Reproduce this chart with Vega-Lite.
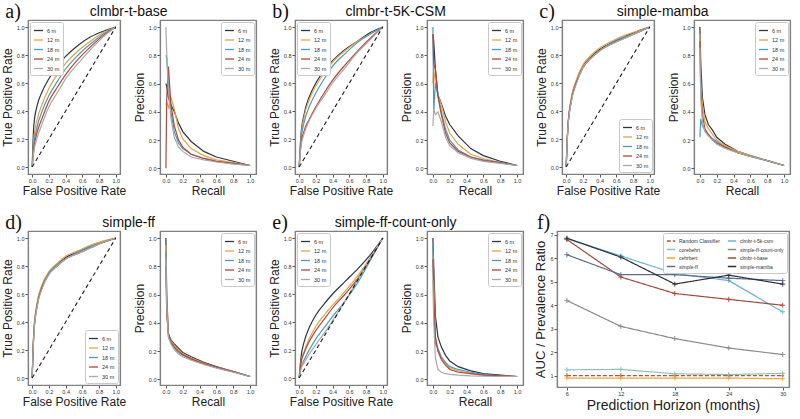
{
"$schema": "https://vega.github.io/schema/vega-lite/v6.json",
"background": "white",
"padding": {"left": 0, "right": 2, "top": 1, "bottom": 0},
"config": {
  "font": "Liberation Sans",
  "view": {"stroke": "#808080", "strokeWidth": 1.2},
  "axis": {"domain": true, "domainColor": "#808080", "domainWidth": 1.2, "grid": false, "tickColor": "#555", "tickSize": 3, "tickWidth": 1, "labelFontSize": 5.5, "labelColor": "#333", "labelPadding": 1, "titleFontSize": 12, "titleFontWeight": "normal", "titleColor": "#222", "titlePadding": 2, "minExtent": 0},
  "legend": {"symbolType": "stroke", "symbolSize": 80, "symbolStrokeWidth": 1.3, "labelFontSize": 5.5, "labelColor": "#333", "rowPadding": 0.5, "padding": 3, "offset": 2, "strokeColor": "#c8c8c8", "fillColor": "#ffffff", "cornerRadius": 2, "labelOffset": 3},
  "title": {"font": "Liberation Sans", "fontWeight": "normal", "color": "#111"}
},
"datasets": {
  "diag": [{"x": 0, "y": 0}, {"x": 1, "y": 1}],
  "roc": [
{"p":"a","s":"6 m","x":0,"y":0},{"p":"a","s":"6 m","x":0.02,"y":0.3},{"p":"a","s":"6 m","x":0.06,"y":0.44},{"p":"a","s":"6 m","x":0.12,"y":0.54},{"p":"a","s":"6 m","x":0.2,"y":0.63},{"p":"a","s":"6 m","x":0.3,"y":0.72},{"p":"a","s":"6 m","x":0.4,"y":0.79},{"p":"a","s":"6 m","x":0.55,"y":0.87},{"p":"a","s":"6 m","x":0.7,"y":0.93},{"p":"a","s":"6 m","x":0.85,"y":0.97},{"p":"a","s":"6 m","x":1,"y":1},
{"p":"a","s":"12 m","x":0,"y":0},{"p":"a","s":"12 m","x":0.02,"y":0.2},{"p":"a","s":"12 m","x":0.06,"y":0.34},{"p":"a","s":"12 m","x":0.12,"y":0.45},{"p":"a","s":"12 m","x":0.2,"y":0.56},{"p":"a","s":"12 m","x":0.3,"y":0.66},{"p":"a","s":"12 m","x":0.4,"y":0.74},{"p":"a","s":"12 m","x":0.55,"y":0.83},{"p":"a","s":"12 m","x":0.7,"y":0.9},{"p":"a","s":"12 m","x":0.85,"y":0.96},{"p":"a","s":"12 m","x":1,"y":1},
{"p":"a","s":"18 m","x":0,"y":0},{"p":"a","s":"18 m","x":0.02,"y":0.16},{"p":"a","s":"18 m","x":0.06,"y":0.29},{"p":"a","s":"18 m","x":0.12,"y":0.4},{"p":"a","s":"18 m","x":0.2,"y":0.51},{"p":"a","s":"18 m","x":0.3,"y":0.61},{"p":"a","s":"18 m","x":0.4,"y":0.7},{"p":"a","s":"18 m","x":0.55,"y":0.8},{"p":"a","s":"18 m","x":0.7,"y":0.88},{"p":"a","s":"18 m","x":0.85,"y":0.95},{"p":"a","s":"18 m","x":1,"y":1},
{"p":"a","s":"24 m","x":0,"y":0},{"p":"a","s":"24 m","x":0.02,"y":0.13},{"p":"a","s":"24 m","x":0.06,"y":0.25},{"p":"a","s":"24 m","x":0.12,"y":0.35},{"p":"a","s":"24 m","x":0.2,"y":0.47},{"p":"a","s":"24 m","x":0.3,"y":0.57},{"p":"a","s":"24 m","x":0.4,"y":0.66},{"p":"a","s":"24 m","x":0.55,"y":0.77},{"p":"a","s":"24 m","x":0.7,"y":0.86},{"p":"a","s":"24 m","x":0.85,"y":0.94},{"p":"a","s":"24 m","x":1,"y":1},
{"p":"a","s":"30 m","x":0,"y":0},{"p":"a","s":"30 m","x":0.02,"y":0.11},{"p":"a","s":"30 m","x":0.06,"y":0.21},{"p":"a","s":"30 m","x":0.12,"y":0.31},{"p":"a","s":"30 m","x":0.2,"y":0.43},{"p":"a","s":"30 m","x":0.3,"y":0.53},{"p":"a","s":"30 m","x":0.4,"y":0.63},{"p":"a","s":"30 m","x":0.55,"y":0.74},{"p":"a","s":"30 m","x":0.7,"y":0.84},{"p":"a","s":"30 m","x":0.85,"y":0.93},{"p":"a","s":"30 m","x":1,"y":1},
{"p":"b","s":"6 m","x":0,"y":0},{"p":"b","s":"6 m","x":0.02,"y":0.22},{"p":"b","s":"6 m","x":0.06,"y":0.38},{"p":"b","s":"6 m","x":0.12,"y":0.5},{"p":"b","s":"6 m","x":0.2,"y":0.6},{"p":"b","s":"6 m","x":0.3,"y":0.69},{"p":"b","s":"6 m","x":0.4,"y":0.76},{"p":"b","s":"6 m","x":0.55,"y":0.84},{"p":"b","s":"6 m","x":0.7,"y":0.9},{"p":"b","s":"6 m","x":0.85,"y":0.96},{"p":"b","s":"6 m","x":1,"y":1},
{"p":"b","s":"12 m","x":0,"y":0},{"p":"b","s":"12 m","x":0.02,"y":0.2},{"p":"b","s":"12 m","x":0.06,"y":0.36},{"p":"b","s":"12 m","x":0.12,"y":0.48},{"p":"b","s":"12 m","x":0.2,"y":0.58},{"p":"b","s":"12 m","x":0.3,"y":0.67},{"p":"b","s":"12 m","x":0.4,"y":0.75},{"p":"b","s":"12 m","x":0.55,"y":0.83},{"p":"b","s":"12 m","x":0.7,"y":0.9},{"p":"b","s":"12 m","x":0.85,"y":0.95},{"p":"b","s":"12 m","x":1,"y":1},
{"p":"b","s":"18 m","x":0,"y":0},{"p":"b","s":"18 m","x":0.02,"y":0.18},{"p":"b","s":"18 m","x":0.06,"y":0.32},{"p":"b","s":"18 m","x":0.12,"y":0.43},{"p":"b","s":"18 m","x":0.2,"y":0.53},{"p":"b","s":"18 m","x":0.3,"y":0.63},{"p":"b","s":"18 m","x":0.4,"y":0.72},{"p":"b","s":"18 m","x":0.55,"y":0.81},{"p":"b","s":"18 m","x":0.7,"y":0.89},{"p":"b","s":"18 m","x":0.85,"y":0.95},{"p":"b","s":"18 m","x":1,"y":1},
{"p":"b","s":"24 m","x":0,"y":0},{"p":"b","s":"24 m","x":0.02,"y":0.15},{"p":"b","s":"24 m","x":0.06,"y":0.26},{"p":"b","s":"24 m","x":0.12,"y":0.34},{"p":"b","s":"24 m","x":0.2,"y":0.43},{"p":"b","s":"24 m","x":0.3,"y":0.53},{"p":"b","s":"24 m","x":0.4,"y":0.62},{"p":"b","s":"24 m","x":0.55,"y":0.73},{"p":"b","s":"24 m","x":0.7,"y":0.83},{"p":"b","s":"24 m","x":0.85,"y":0.92},{"p":"b","s":"24 m","x":1,"y":1},
{"p":"b","s":"30 m","x":0,"y":0},{"p":"b","s":"30 m","x":0.02,"y":0.14},{"p":"b","s":"30 m","x":0.06,"y":0.24},{"p":"b","s":"30 m","x":0.12,"y":0.33},{"p":"b","s":"30 m","x":0.2,"y":0.42},{"p":"b","s":"30 m","x":0.3,"y":0.51},{"p":"b","s":"30 m","x":0.4,"y":0.6},{"p":"b","s":"30 m","x":0.55,"y":0.71},{"p":"b","s":"30 m","x":0.7,"y":0.82},{"p":"b","s":"30 m","x":0.85,"y":0.91},{"p":"b","s":"30 m","x":1,"y":1},
{"p":"c","s":"6 m","x":0,"y":0},{"p":"c","s":"6 m","x":0.02,"y":0.28},{"p":"c","s":"6 m","x":0.06,"y":0.48},{"p":"c","s":"6 m","x":0.12,"y":0.61},{"p":"c","s":"6 m","x":0.2,"y":0.72},{"p":"c","s":"6 m","x":0.3,"y":0.79},{"p":"c","s":"6 m","x":0.4,"y":0.84},{"p":"c","s":"6 m","x":0.55,"y":0.89},{"p":"c","s":"6 m","x":0.7,"y":0.93},{"p":"c","s":"6 m","x":0.85,"y":0.97},{"p":"c","s":"6 m","x":1,"y":1},
{"p":"c","s":"12 m","x":0,"y":0},{"p":"c","s":"12 m","x":0.02,"y":0.29},{"p":"c","s":"12 m","x":0.06,"y":0.49},{"p":"c","s":"12 m","x":0.12,"y":0.62},{"p":"c","s":"12 m","x":0.2,"y":0.73},{"p":"c","s":"12 m","x":0.3,"y":0.8},{"p":"c","s":"12 m","x":0.4,"y":0.85},{"p":"c","s":"12 m","x":0.55,"y":0.9},{"p":"c","s":"12 m","x":0.7,"y":0.94},{"p":"c","s":"12 m","x":0.85,"y":0.97},{"p":"c","s":"12 m","x":1,"y":1},
{"p":"c","s":"18 m","x":0,"y":0},{"p":"c","s":"18 m","x":0.02,"y":0.27},{"p":"c","s":"18 m","x":0.06,"y":0.47},{"p":"c","s":"18 m","x":0.12,"y":0.6},{"p":"c","s":"18 m","x":0.2,"y":0.71},{"p":"c","s":"18 m","x":0.3,"y":0.78},{"p":"c","s":"18 m","x":0.4,"y":0.83},{"p":"c","s":"18 m","x":0.55,"y":0.89},{"p":"c","s":"18 m","x":0.7,"y":0.93},{"p":"c","s":"18 m","x":0.85,"y":0.96},{"p":"c","s":"18 m","x":1,"y":1},
{"p":"c","s":"24 m","x":0,"y":0},{"p":"c","s":"24 m","x":0.02,"y":0.28},{"p":"c","s":"24 m","x":0.06,"y":0.47},{"p":"c","s":"24 m","x":0.12,"y":0.6},{"p":"c","s":"24 m","x":0.2,"y":0.71},{"p":"c","s":"24 m","x":0.3,"y":0.78},{"p":"c","s":"24 m","x":0.4,"y":0.83},{"p":"c","s":"24 m","x":0.55,"y":0.88},{"p":"c","s":"24 m","x":0.7,"y":0.92},{"p":"c","s":"24 m","x":0.85,"y":0.96},{"p":"c","s":"24 m","x":1,"y":1},
{"p":"c","s":"30 m","x":0,"y":0},{"p":"c","s":"30 m","x":0.02,"y":0.27},{"p":"c","s":"30 m","x":0.06,"y":0.46},{"p":"c","s":"30 m","x":0.12,"y":0.59},{"p":"c","s":"30 m","x":0.2,"y":0.71},{"p":"c","s":"30 m","x":0.3,"y":0.78},{"p":"c","s":"30 m","x":0.4,"y":0.83},{"p":"c","s":"30 m","x":0.55,"y":0.88},{"p":"c","s":"30 m","x":0.7,"y":0.92},{"p":"c","s":"30 m","x":0.85,"y":0.96},{"p":"c","s":"30 m","x":1,"y":1},
{"p":"d","s":"6 m","x":0,"y":0},{"p":"d","s":"6 m","x":0.02,"y":0.33},{"p":"d","s":"6 m","x":0.06,"y":0.53},{"p":"d","s":"6 m","x":0.12,"y":0.66},{"p":"d","s":"6 m","x":0.2,"y":0.75},{"p":"d","s":"6 m","x":0.3,"y":0.81},{"p":"d","s":"6 m","x":0.4,"y":0.86},{"p":"d","s":"6 m","x":0.55,"y":0.9},{"p":"d","s":"6 m","x":0.7,"y":0.94},{"p":"d","s":"6 m","x":0.85,"y":0.97},{"p":"d","s":"6 m","x":1,"y":1},
{"p":"d","s":"12 m","x":0,"y":0},{"p":"d","s":"12 m","x":0.02,"y":0.34},{"p":"d","s":"12 m","x":0.06,"y":0.54},{"p":"d","s":"12 m","x":0.12,"y":0.67},{"p":"d","s":"12 m","x":0.2,"y":0.76},{"p":"d","s":"12 m","x":0.3,"y":0.82},{"p":"d","s":"12 m","x":0.4,"y":0.87},{"p":"d","s":"12 m","x":0.55,"y":0.91},{"p":"d","s":"12 m","x":0.7,"y":0.95},{"p":"d","s":"12 m","x":0.85,"y":0.98},{"p":"d","s":"12 m","x":1,"y":1},
{"p":"d","s":"18 m","x":0,"y":0},{"p":"d","s":"18 m","x":0.02,"y":0.32},{"p":"d","s":"18 m","x":0.06,"y":0.52},{"p":"d","s":"18 m","x":0.12,"y":0.65},{"p":"d","s":"18 m","x":0.2,"y":0.75},{"p":"d","s":"18 m","x":0.3,"y":0.81},{"p":"d","s":"18 m","x":0.4,"y":0.85},{"p":"d","s":"18 m","x":0.55,"y":0.9},{"p":"d","s":"18 m","x":0.7,"y":0.94},{"p":"d","s":"18 m","x":0.85,"y":0.97},{"p":"d","s":"18 m","x":1,"y":1},
{"p":"d","s":"24 m","x":0,"y":0},{"p":"d","s":"24 m","x":0.02,"y":0.32},{"p":"d","s":"24 m","x":0.06,"y":0.52},{"p":"d","s":"24 m","x":0.12,"y":0.65},{"p":"d","s":"24 m","x":0.2,"y":0.74},{"p":"d","s":"24 m","x":0.3,"y":0.8},{"p":"d","s":"24 m","x":0.4,"y":0.85},{"p":"d","s":"24 m","x":0.55,"y":0.89},{"p":"d","s":"24 m","x":0.7,"y":0.93},{"p":"d","s":"24 m","x":0.85,"y":0.97},{"p":"d","s":"24 m","x":1,"y":1},
{"p":"d","s":"30 m","x":0,"y":0},{"p":"d","s":"30 m","x":0.02,"y":0.31},{"p":"d","s":"30 m","x":0.06,"y":0.51},{"p":"d","s":"30 m","x":0.12,"y":0.64},{"p":"d","s":"30 m","x":0.2,"y":0.74},{"p":"d","s":"30 m","x":0.3,"y":0.8},{"p":"d","s":"30 m","x":0.4,"y":0.85},{"p":"d","s":"30 m","x":0.55,"y":0.89},{"p":"d","s":"30 m","x":0.7,"y":0.93},{"p":"d","s":"30 m","x":0.85,"y":0.97},{"p":"d","s":"30 m","x":1,"y":1},
{"p":"e","s":"6 m","x":0,"y":0},{"p":"e","s":"6 m","x":0.02,"y":0.14},{"p":"e","s":"6 m","x":0.06,"y":0.26},{"p":"e","s":"6 m","x":0.12,"y":0.36},{"p":"e","s":"6 m","x":0.2,"y":0.45},{"p":"e","s":"6 m","x":0.3,"y":0.53},{"p":"e","s":"6 m","x":0.4,"y":0.6},{"p":"e","s":"6 m","x":0.55,"y":0.69},{"p":"e","s":"6 m","x":0.7,"y":0.78},{"p":"e","s":"6 m","x":0.85,"y":0.88},{"p":"e","s":"6 m","x":1,"y":1},
{"p":"e","s":"12 m","x":0,"y":0},{"p":"e","s":"12 m","x":0.02,"y":0.11},{"p":"e","s":"12 m","x":0.06,"y":0.19},{"p":"e","s":"12 m","x":0.12,"y":0.28},{"p":"e","s":"12 m","x":0.2,"y":0.37},{"p":"e","s":"12 m","x":0.3,"y":0.45},{"p":"e","s":"12 m","x":0.4,"y":0.52},{"p":"e","s":"12 m","x":0.55,"y":0.62},{"p":"e","s":"12 m","x":0.7,"y":0.73},{"p":"e","s":"12 m","x":0.85,"y":0.86},{"p":"e","s":"12 m","x":1,"y":1},
{"p":"e","s":"18 m","x":0,"y":0},{"p":"e","s":"18 m","x":0.02,"y":0.07},{"p":"e","s":"18 m","x":0.06,"y":0.13},{"p":"e","s":"18 m","x":0.12,"y":0.2},{"p":"e","s":"18 m","x":0.2,"y":0.28},{"p":"e","s":"18 m","x":0.3,"y":0.36},{"p":"e","s":"18 m","x":0.4,"y":0.44},{"p":"e","s":"18 m","x":0.55,"y":0.55},{"p":"e","s":"18 m","x":0.7,"y":0.68},{"p":"e","s":"18 m","x":0.85,"y":0.84},{"p":"e","s":"18 m","x":1,"y":1},
{"p":"e","s":"24 m","x":0,"y":0},{"p":"e","s":"24 m","x":0.02,"y":0.1},{"p":"e","s":"24 m","x":0.06,"y":0.18},{"p":"e","s":"24 m","x":0.12,"y":0.26},{"p":"e","s":"24 m","x":0.2,"y":0.34},{"p":"e","s":"24 m","x":0.3,"y":0.42},{"p":"e","s":"24 m","x":0.4,"y":0.5},{"p":"e","s":"24 m","x":0.55,"y":0.6},{"p":"e","s":"24 m","x":0.7,"y":0.71},{"p":"e","s":"24 m","x":0.85,"y":0.85},{"p":"e","s":"24 m","x":1,"y":1},
{"p":"e","s":"30 m","x":0,"y":0},{"p":"e","s":"30 m","x":0.02,"y":0.06},{"p":"e","s":"30 m","x":0.06,"y":0.11},{"p":"e","s":"30 m","x":0.12,"y":0.17},{"p":"e","s":"30 m","x":0.2,"y":0.24},{"p":"e","s":"30 m","x":0.3,"y":0.32},{"p":"e","s":"30 m","x":0.4,"y":0.41},{"p":"e","s":"30 m","x":0.55,"y":0.55},{"p":"e","s":"30 m","x":0.7,"y":0.7},{"p":"e","s":"30 m","x":0.85,"y":0.86},{"p":"e","s":"30 m","x":1,"y":1}
  ],
  "pr": [
{"p":"a","s":"6 m","x":0,"y":0.6},{"p":"a","s":"6 m","x":0.01,"y":0.58},{"p":"a","s":"6 m","x":0.03,"y":0.5},{"p":"a","s":"6 m","x":0.06,"y":0.45},{"p":"a","s":"6 m","x":0.1,"y":0.4},{"p":"a","s":"6 m","x":0.15,"y":0.32},{"p":"a","s":"6 m","x":0.2,"y":0.26},{"p":"a","s":"6 m","x":0.3,"y":0.19},{"p":"a","s":"6 m","x":0.45,"y":0.12},{"p":"a","s":"6 m","x":0.6,"y":0.08},{"p":"a","s":"6 m","x":0.8,"y":0.05},{"p":"a","s":"6 m","x":1,"y":0.02},
{"p":"a","s":"12 m","x":0,"y":0.45},{"p":"a","s":"12 m","x":0.01,"y":0.47},{"p":"a","s":"12 m","x":0.03,"y":0.43},{"p":"a","s":"12 m","x":0.06,"y":0.5},{"p":"a","s":"12 m","x":0.1,"y":0.42},{"p":"a","s":"12 m","x":0.15,"y":0.28},{"p":"a","s":"12 m","x":0.2,"y":0.21},{"p":"a","s":"12 m","x":0.3,"y":0.14},{"p":"a","s":"12 m","x":0.45,"y":0.09},{"p":"a","s":"12 m","x":0.6,"y":0.06},{"p":"a","s":"12 m","x":0.8,"y":0.04},{"p":"a","s":"12 m","x":1,"y":0.02},
{"p":"a","s":"18 m","x":0,"y":0.8},{"p":"a","s":"18 m","x":0.01,"y":0.78},{"p":"a","s":"18 m","x":0.03,"y":0.6},{"p":"a","s":"18 m","x":0.06,"y":0.4},{"p":"a","s":"18 m","x":0.1,"y":0.26},{"p":"a","s":"18 m","x":0.15,"y":0.18},{"p":"a","s":"18 m","x":0.2,"y":0.14},{"p":"a","s":"18 m","x":0.3,"y":0.1},{"p":"a","s":"18 m","x":0.45,"y":0.07},{"p":"a","s":"18 m","x":0.6,"y":0.05},{"p":"a","s":"18 m","x":0.8,"y":0.035},{"p":"a","s":"18 m","x":1,"y":0.02},
{"p":"a","s":"24 m","x":0,"y":0},{"p":"a","s":"24 m","x":0.01,"y":0.5},{"p":"a","s":"24 m","x":0.03,"y":0.72},{"p":"a","s":"24 m","x":0.06,"y":0.45},{"p":"a","s":"24 m","x":0.1,"y":0.3},{"p":"a","s":"24 m","x":0.15,"y":0.2},{"p":"a","s":"24 m","x":0.2,"y":0.15},{"p":"a","s":"24 m","x":0.3,"y":0.1},{"p":"a","s":"24 m","x":0.45,"y":0.07},{"p":"a","s":"24 m","x":0.6,"y":0.05},{"p":"a","s":"24 m","x":0.8,"y":0.035},{"p":"a","s":"24 m","x":1,"y":0.02},
{"p":"a","s":"30 m","x":0,"y":1},{"p":"a","s":"30 m","x":0.01,"y":0.82},{"p":"a","s":"30 m","x":0.03,"y":0.55},{"p":"a","s":"30 m","x":0.06,"y":0.35},{"p":"a","s":"30 m","x":0.1,"y":0.22},{"p":"a","s":"30 m","x":0.15,"y":0.15},{"p":"a","s":"30 m","x":0.2,"y":0.12},{"p":"a","s":"30 m","x":0.3,"y":0.08},{"p":"a","s":"30 m","x":0.45,"y":0.06},{"p":"a","s":"30 m","x":0.6,"y":0.045},{"p":"a","s":"30 m","x":0.8,"y":0.03},{"p":"a","s":"30 m","x":1,"y":0.02},
{"p":"b","s":"6 m","x":0,"y":0.95},{"p":"b","s":"6 m","x":0.01,"y":0.9},{"p":"b","s":"6 m","x":0.03,"y":0.7},{"p":"b","s":"6 m","x":0.06,"y":0.52},{"p":"b","s":"6 m","x":0.1,"y":0.46},{"p":"b","s":"6 m","x":0.15,"y":0.37},{"p":"b","s":"6 m","x":0.2,"y":0.31},{"p":"b","s":"6 m","x":0.3,"y":0.23},{"p":"b","s":"6 m","x":0.45,"y":0.14},{"p":"b","s":"6 m","x":0.6,"y":0.09},{"p":"b","s":"6 m","x":0.8,"y":0.05},{"p":"b","s":"6 m","x":1,"y":0.02},
{"p":"b","s":"12 m","x":0,"y":0.6},{"p":"b","s":"12 m","x":0.01,"y":0.7},{"p":"b","s":"12 m","x":0.03,"y":0.6},{"p":"b","s":"12 m","x":0.06,"y":0.52},{"p":"b","s":"12 m","x":0.1,"y":0.45},{"p":"b","s":"12 m","x":0.15,"y":0.33},{"p":"b","s":"12 m","x":0.2,"y":0.25},{"p":"b","s":"12 m","x":0.3,"y":0.17},{"p":"b","s":"12 m","x":0.45,"y":0.1},{"p":"b","s":"12 m","x":0.6,"y":0.07},{"p":"b","s":"12 m","x":0.8,"y":0.04},{"p":"b","s":"12 m","x":1,"y":0.02},
{"p":"b","s":"18 m","x":0,"y":1},{"p":"b","s":"18 m","x":0.01,"y":0.4},{"p":"b","s":"18 m","x":0.03,"y":0.6},{"p":"b","s":"18 m","x":0.06,"y":0.52},{"p":"b","s":"18 m","x":0.1,"y":0.4},{"p":"b","s":"18 m","x":0.15,"y":0.28},{"p":"b","s":"18 m","x":0.2,"y":0.2},{"p":"b","s":"18 m","x":0.3,"y":0.13},{"p":"b","s":"18 m","x":0.45,"y":0.08},{"p":"b","s":"18 m","x":0.6,"y":0.06},{"p":"b","s":"18 m","x":0.8,"y":0.04},{"p":"b","s":"18 m","x":1,"y":0.02},
{"p":"b","s":"24 m","x":0,"y":0.95},{"p":"b","s":"24 m","x":0.01,"y":0.74},{"p":"b","s":"24 m","x":0.03,"y":0.7},{"p":"b","s":"24 m","x":0.06,"y":0.51},{"p":"b","s":"24 m","x":0.1,"y":0.38},{"p":"b","s":"24 m","x":0.15,"y":0.25},{"p":"b","s":"24 m","x":0.2,"y":0.18},{"p":"b","s":"24 m","x":0.3,"y":0.12},{"p":"b","s":"24 m","x":0.45,"y":0.08},{"p":"b","s":"24 m","x":0.6,"y":0.055},{"p":"b","s":"24 m","x":0.8,"y":0.04},{"p":"b","s":"24 m","x":1,"y":0.02},
{"p":"b","s":"30 m","x":0,"y":0.3},{"p":"b","s":"30 m","x":0.01,"y":0.42},{"p":"b","s":"30 m","x":0.03,"y":0.38},{"p":"b","s":"30 m","x":0.06,"y":0.4},{"p":"b","s":"30 m","x":0.1,"y":0.33},{"p":"b","s":"30 m","x":0.15,"y":0.22},{"p":"b","s":"30 m","x":0.2,"y":0.16},{"p":"b","s":"30 m","x":0.3,"y":0.11},{"p":"b","s":"30 m","x":0.45,"y":0.07},{"p":"b","s":"30 m","x":0.6,"y":0.05},{"p":"b","s":"30 m","x":0.8,"y":0.035},{"p":"b","s":"30 m","x":1,"y":0.02},
{"p":"c","s":"6 m","x":0,"y":1},{"p":"c","s":"6 m","x":0.01,"y":0.75},{"p":"c","s":"6 m","x":0.03,"y":0.5},{"p":"c","s":"6 m","x":0.06,"y":0.38},{"p":"c","s":"6 m","x":0.1,"y":0.31},{"p":"c","s":"6 m","x":0.15,"y":0.27},{"p":"c","s":"6 m","x":0.2,"y":0.22},{"p":"c","s":"6 m","x":0.3,"y":0.17},{"p":"c","s":"6 m","x":0.45,"y":0.12},{"p":"c","s":"6 m","x":0.6,"y":0.09},{"p":"c","s":"6 m","x":0.8,"y":0.055},{"p":"c","s":"6 m","x":1,"y":0.02},
{"p":"c","s":"12 m","x":0,"y":0.95},{"p":"c","s":"12 m","x":0.01,"y":0.6},{"p":"c","s":"12 m","x":0.03,"y":0.45},{"p":"c","s":"12 m","x":0.06,"y":0.33},{"p":"c","s":"12 m","x":0.1,"y":0.28},{"p":"c","s":"12 m","x":0.15,"y":0.24},{"p":"c","s":"12 m","x":0.2,"y":0.2},{"p":"c","s":"12 m","x":0.3,"y":0.16},{"p":"c","s":"12 m","x":0.45,"y":0.12},{"p":"c","s":"12 m","x":0.6,"y":0.09},{"p":"c","s":"12 m","x":0.8,"y":0.055},{"p":"c","s":"12 m","x":1,"y":0.02},
{"p":"c","s":"18 m","x":0,"y":0.22},{"p":"c","s":"18 m","x":0.01,"y":0.35},{"p":"c","s":"18 m","x":0.03,"y":0.3},{"p":"c","s":"18 m","x":0.06,"y":0.27},{"p":"c","s":"18 m","x":0.1,"y":0.24},{"p":"c","s":"18 m","x":0.15,"y":0.21},{"p":"c","s":"18 m","x":0.2,"y":0.19},{"p":"c","s":"18 m","x":0.3,"y":0.15},{"p":"c","s":"18 m","x":0.45,"y":0.11},{"p":"c","s":"18 m","x":0.6,"y":0.085},{"p":"c","s":"18 m","x":0.8,"y":0.055},{"p":"c","s":"18 m","x":1,"y":0.02},
{"p":"c","s":"24 m","x":0,"y":0.9},{"p":"c","s":"24 m","x":0.01,"y":0.55},{"p":"c","s":"24 m","x":0.03,"y":0.38},{"p":"c","s":"24 m","x":0.06,"y":0.28},{"p":"c","s":"24 m","x":0.1,"y":0.24},{"p":"c","s":"24 m","x":0.15,"y":0.2},{"p":"c","s":"24 m","x":0.2,"y":0.18},{"p":"c","s":"24 m","x":0.3,"y":0.15},{"p":"c","s":"24 m","x":0.45,"y":0.11},{"p":"c","s":"24 m","x":0.6,"y":0.085},{"p":"c","s":"24 m","x":0.8,"y":0.055},{"p":"c","s":"24 m","x":1,"y":0.02},
{"p":"c","s":"30 m","x":0,"y":0.85},{"p":"c","s":"30 m","x":0.01,"y":0.5},{"p":"c","s":"30 m","x":0.03,"y":0.33},{"p":"c","s":"30 m","x":0.06,"y":0.26},{"p":"c","s":"30 m","x":0.1,"y":0.23},{"p":"c","s":"30 m","x":0.15,"y":0.2},{"p":"c","s":"30 m","x":0.2,"y":0.17},{"p":"c","s":"30 m","x":0.3,"y":0.14},{"p":"c","s":"30 m","x":0.45,"y":0.11},{"p":"c","s":"30 m","x":0.6,"y":0.085},{"p":"c","s":"30 m","x":0.8,"y":0.055},{"p":"c","s":"30 m","x":1,"y":0.02},
{"p":"d","s":"6 m","x":0,"y":1},{"p":"d","s":"6 m","x":0.01,"y":0.6},{"p":"d","s":"6 m","x":0.03,"y":0.32},{"p":"d","s":"6 m","x":0.06,"y":0.28},{"p":"d","s":"6 m","x":0.1,"y":0.25},{"p":"d","s":"6 m","x":0.15,"y":0.22},{"p":"d","s":"6 m","x":0.2,"y":0.19},{"p":"d","s":"6 m","x":0.3,"y":0.16},{"p":"d","s":"6 m","x":0.45,"y":0.12},{"p":"d","s":"6 m","x":0.6,"y":0.09},{"p":"d","s":"6 m","x":0.8,"y":0.055},{"p":"d","s":"6 m","x":1,"y":0.02},
{"p":"d","s":"12 m","x":0,"y":0.95},{"p":"d","s":"12 m","x":0.01,"y":0.55},{"p":"d","s":"12 m","x":0.03,"y":0.31},{"p":"d","s":"12 m","x":0.06,"y":0.27},{"p":"d","s":"12 m","x":0.1,"y":0.24},{"p":"d","s":"12 m","x":0.15,"y":0.21},{"p":"d","s":"12 m","x":0.2,"y":0.18},{"p":"d","s":"12 m","x":0.3,"y":0.15},{"p":"d","s":"12 m","x":0.45,"y":0.115},{"p":"d","s":"12 m","x":0.6,"y":0.085},{"p":"d","s":"12 m","x":0.8,"y":0.055},{"p":"d","s":"12 m","x":1,"y":0.02},
{"p":"d","s":"18 m","x":0,"y":0.9},{"p":"d","s":"18 m","x":0.01,"y":0.5},{"p":"d","s":"18 m","x":0.03,"y":0.3},{"p":"d","s":"18 m","x":0.06,"y":0.26},{"p":"d","s":"18 m","x":0.1,"y":0.22},{"p":"d","s":"18 m","x":0.15,"y":0.19},{"p":"d","s":"18 m","x":0.2,"y":0.17},{"p":"d","s":"18 m","x":0.3,"y":0.14},{"p":"d","s":"18 m","x":0.45,"y":0.11},{"p":"d","s":"18 m","x":0.6,"y":0.085},{"p":"d","s":"18 m","x":0.8,"y":0.055},{"p":"d","s":"18 m","x":1,"y":0.02},
{"p":"d","s":"24 m","x":0,"y":0.8},{"p":"d","s":"24 m","x":0.01,"y":0.45},{"p":"d","s":"24 m","x":0.03,"y":0.33},{"p":"d","s":"24 m","x":0.06,"y":0.26},{"p":"d","s":"24 m","x":0.1,"y":0.23},{"p":"d","s":"24 m","x":0.15,"y":0.2},{"p":"d","s":"24 m","x":0.2,"y":0.175},{"p":"d","s":"24 m","x":0.3,"y":0.145},{"p":"d","s":"24 m","x":0.45,"y":0.11},{"p":"d","s":"24 m","x":0.6,"y":0.085},{"p":"d","s":"24 m","x":0.8,"y":0.055},{"p":"d","s":"24 m","x":1,"y":0.02},
{"p":"d","s":"30 m","x":0,"y":0.85},{"p":"d","s":"30 m","x":0.01,"y":0.5},{"p":"d","s":"30 m","x":0.03,"y":0.3},{"p":"d","s":"30 m","x":0.06,"y":0.25},{"p":"d","s":"30 m","x":0.1,"y":0.21},{"p":"d","s":"30 m","x":0.15,"y":0.18},{"p":"d","s":"30 m","x":0.2,"y":0.16},{"p":"d","s":"30 m","x":0.3,"y":0.135},{"p":"d","s":"30 m","x":0.45,"y":0.105},{"p":"d","s":"30 m","x":0.6,"y":0.08},{"p":"d","s":"30 m","x":0.8,"y":0.05},{"p":"d","s":"30 m","x":1,"y":0.02},
{"p":"e","s":"6 m","x":0,"y":1},{"p":"e","s":"6 m","x":0.01,"y":0.8},{"p":"e","s":"6 m","x":0.03,"y":0.45},{"p":"e","s":"6 m","x":0.06,"y":0.3},{"p":"e","s":"6 m","x":0.1,"y":0.23},{"p":"e","s":"6 m","x":0.15,"y":0.17},{"p":"e","s":"6 m","x":0.2,"y":0.13},{"p":"e","s":"6 m","x":0.3,"y":0.09},{"p":"e","s":"6 m","x":0.45,"y":0.06},{"p":"e","s":"6 m","x":0.6,"y":0.04},{"p":"e","s":"6 m","x":0.8,"y":0.03},{"p":"e","s":"6 m","x":1,"y":0.02},
{"p":"e","s":"12 m","x":0,"y":0.9},{"p":"e","s":"12 m","x":0.01,"y":0.7},{"p":"e","s":"12 m","x":0.03,"y":0.3},{"p":"e","s":"12 m","x":0.06,"y":0.2},{"p":"e","s":"12 m","x":0.1,"y":0.15},{"p":"e","s":"12 m","x":0.15,"y":0.11},{"p":"e","s":"12 m","x":0.2,"y":0.08},{"p":"e","s":"12 m","x":0.3,"y":0.06},{"p":"e","s":"12 m","x":0.45,"y":0.04},{"p":"e","s":"12 m","x":0.6,"y":0.03},{"p":"e","s":"12 m","x":0.8,"y":0.025},{"p":"e","s":"12 m","x":1,"y":0.02},
{"p":"e","s":"18 m","x":0,"y":0.95},{"p":"e","s":"18 m","x":0.01,"y":0.5},{"p":"e","s":"18 m","x":0.03,"y":0.25},{"p":"e","s":"18 m","x":0.06,"y":0.22},{"p":"e","s":"18 m","x":0.1,"y":0.16},{"p":"e","s":"18 m","x":0.15,"y":0.12},{"p":"e","s":"18 m","x":0.2,"y":0.09},{"p":"e","s":"18 m","x":0.3,"y":0.07},{"p":"e","s":"18 m","x":0.45,"y":0.05},{"p":"e","s":"18 m","x":0.6,"y":0.035},{"p":"e","s":"18 m","x":0.8,"y":0.025},{"p":"e","s":"18 m","x":1,"y":0.02},
{"p":"e","s":"24 m","x":0,"y":0.85},{"p":"e","s":"24 m","x":0.01,"y":0.6},{"p":"e","s":"24 m","x":0.03,"y":0.3},{"p":"e","s":"24 m","x":0.06,"y":0.2},{"p":"e","s":"24 m","x":0.1,"y":0.14},{"p":"e","s":"24 m","x":0.15,"y":0.1},{"p":"e","s":"24 m","x":0.2,"y":0.07},{"p":"e","s":"24 m","x":0.3,"y":0.05},{"p":"e","s":"24 m","x":0.45,"y":0.04},{"p":"e","s":"24 m","x":0.6,"y":0.03},{"p":"e","s":"24 m","x":0.8,"y":0.025},{"p":"e","s":"24 m","x":1,"y":0.02},
{"p":"e","s":"30 m","x":0,"y":0.7},{"p":"e","s":"30 m","x":0.01,"y":0.4},{"p":"e","s":"30 m","x":0.03,"y":0.15},{"p":"e","s":"30 m","x":0.06,"y":0.07},{"p":"e","s":"30 m","x":0.1,"y":0.05},{"p":"e","s":"30 m","x":0.15,"y":0.04},{"p":"e","s":"30 m","x":0.2,"y":0.035},{"p":"e","s":"30 m","x":0.3,"y":0.03},{"p":"e","s":"30 m","x":0.45,"y":0.025},{"p":"e","s":"30 m","x":0.6,"y":0.022},{"p":"e","s":"30 m","x":0.8,"y":0.02},{"p":"e","s":"30 m","x":1,"y":0.02}
  ],
  "auc": [
{"s":"Random Classifier","h":6,"v":1},{"s":"Random Classifier","h":12,"v":1},{"s":"Random Classifier","h":18,"v":1},{"s":"Random Classifier","h":24,"v":1},{"s":"Random Classifier","h":30,"v":1},
{"s":"cehrbert","h":6,"v":0.9},{"s":"cehrbert","h":12,"v":0.9},{"s":"cehrbert","h":18,"v":0.9},{"s":"cehrbert","h":24,"v":0.9},{"s":"cehrbert","h":30,"v":0.87},
{"s":"clmbr-t-5k-csm","h":6,"v":6.85},{"s":"clmbr-t-5k-csm","h":12,"v":6.1},{"s":"clmbr-t-5k-csm","h":18,"v":5.35},{"s":"clmbr-t-5k-csm","h":24,"v":5.05},{"s":"clmbr-t-5k-csm","h":30,"v":3.72},
{"s":"clmbr-t-base","h":6,"v":6.8},{"s":"clmbr-t-base","h":12,"v":5.2},{"s":"clmbr-t-base","h":18,"v":4.5},{"s":"clmbr-t-base","h":24,"v":4.25},{"s":"clmbr-t-base","h":30,"v":4.0},
{"s":"corebehrt","h":6,"v":1.25},{"s":"corebehrt","h":12,"v":1.27},{"s":"corebehrt","h":18,"v":1.08},{"s":"corebehrt","h":24,"v":1.05},{"s":"corebehrt","h":30,"v":1.1},
{"s":"simple-ff","h":6,"v":6.15},{"s":"simple-ff","h":12,"v":5.3},{"s":"simple-ff","h":18,"v":5.3},{"s":"simple-ff","h":24,"v":5.15},{"s":"simple-ff","h":30,"v":5.05},
{"s":"simple-ff-count-only","h":6,"v":4.2},{"s":"simple-ff-count-only","h":12,"v":3.1},{"s":"simple-ff-count-only","h":18,"v":2.58},{"s":"simple-ff-count-only","h":24,"v":2.18},{"s":"simple-ff-count-only","h":30,"v":1.9},
{"s":"simple-mamba","h":6,"v":6.85},{"s":"simple-mamba","h":12,"v":6.05},{"s":"simple-mamba","h":18,"v":4.9},{"s":"simple-mamba","h":24,"v":5.28},{"s":"simple-mamba","h":30,"v":4.9}
  ]
},
"resolve": {"scale": {"color": "independent", "x": "independent", "y": "independent"}, "legend": {"color": "independent"}},
"spacing": 14,
"vconcat": [
 {"spacing": 10,
  "resolve": {"scale": {"color": "independent", "x": "independent", "y": "independent"}, "legend": {"color": "independent"}},
  "hconcat": [
   {"title": {"text": "clmbr-t-base", "fontSize": 14, "anchor": "middle", "offset": -18},
    "spacing": 5,
    "resolve": {"scale": {"color": "independent", "x": "independent", "y": "independent"}, "legend": {"color": "independent"}},
    "hconcat": [
     {"title": {"text": "a)", "font": "Liberation Serif", "fontSize": 20, "anchor": "start", "offset": -2, "dx": 4},
      "width": 92, "height": 154,
      "resolve": {"axis": {"x": "independent", "y": "independent"}},
      "layer": [
       {"data": {"name": "roc"}, "transform": [{"filter": "datum.p === 'a'"}],
        "mark": {"type": "line", "strokeWidth": 1.2, "interpolate": "monotone"},
        "encoding": {
         "x": {"field": "x", "type": "quantitative", "scale": {"domain": [-0.05, 1.05], "nice": false}, "axis": {"values": [0, 0.2, 0.4, 0.6, 0.8, 1], "format": ".1f", "title": "False Positive Rate"}},
         "y": {"field": "y", "type": "quantitative", "scale": {"domain": [-0.05, 1.05], "nice": false}, "axis": {"values": [0, 0.2, 0.4, 0.6, 0.8, 1], "format": ".1f", "title": "True Positive Rate"}},
         "color": {"field": "s", "type": "nominal", "scale": {"domain": ["6 m", "12 m", "18 m", "24 m", "30 m"], "range": ["#2f3546", "#e3a443", "#4c9bbd", "#b1483a", "#a9a9a9"]}, "legend": {"title": null, "orient": "top-left"}}}},
       {"data": {"name": "diag"}, "mark": {"type": "line", "color": "#1a1a1a", "strokeDash": [4, 3], "strokeWidth": 1.1},
        "encoding": {"x": {"field": "x", "type": "quantitative", "axis": {"orient": "top", "labels": false, "ticks": false, "title": null}}, "y": {"field": "y", "type": "quantitative", "axis": {"orient": "right", "labels": false, "ticks": false, "title": null}}}}
      ]},
     {"width": 96, "height": 154,
      "resolve": {"axis": {"x": "independent", "y": "independent"}},
      "layer": [
       {"data": {"name": "pr"}, "transform": [{"filter": "datum.p === 'a'"}],
        "mark": {"type": "line", "strokeWidth": 1.2},
        "encoding": {
         "x": {"field": "x", "type": "quantitative", "scale": {"domain": [-0.07, 1.07], "nice": false}, "axis": {"values": [0, 0.2, 0.4, 0.6, 0.8, 1], "format": ".1f", "title": "Recall"}},
         "y": {"field": "y", "type": "quantitative", "scale": {"domain": [-0.04, 1.05], "nice": false}, "axis": {"values": [0, 0.2, 0.4, 0.6, 0.8, 1], "format": ".1f", "title": "Precision"}},
         "color": {"field": "s", "type": "nominal", "scale": {"domain": ["6 m", "12 m", "18 m", "24 m", "30 m"], "range": ["#2f3546", "#e3a443", "#4c9bbd", "#b1483a", "#a9a9a9"]}, "legend": {"title": null, "orient": "top-right"}}}},
       {"data": {"name": "diag"}, "mark": {"type": "line", "opacity": 0},
        "encoding": {"x": {"field": "x", "type": "quantitative", "axis": {"orient": "top", "labels": false, "ticks": false, "title": null}}, "y": {"field": "y", "type": "quantitative", "axis": {"orient": "right", "labels": false, "ticks": false, "title": null}}}}
      ]}
    ]},
   {"title": {"text": "clmbr-t-5K-CSM", "fontSize": 14, "anchor": "middle", "offset": -18},
    "spacing": 5,
    "resolve": {"scale": {"color": "independent", "x": "independent", "y": "independent"}, "legend": {"color": "independent"}},
    "hconcat": [
     {"title": {"text": "b)", "font": "Liberation Serif", "fontSize": 20, "anchor": "start", "offset": -2, "dx": 4},
      "width": 92, "height": 154,
      "resolve": {"axis": {"x": "independent", "y": "independent"}},
      "layer": [
       {"data": {"name": "roc"}, "transform": [{"filter": "datum.p === 'b'"}],
        "mark": {"type": "line", "strokeWidth": 1.2, "interpolate": "monotone"},
        "encoding": {
         "x": {"field": "x", "type": "quantitative", "scale": {"domain": [-0.05, 1.05], "nice": false}, "axis": {"values": [0, 0.2, 0.4, 0.6, 0.8, 1], "format": ".1f", "title": "False Positive Rate"}},
         "y": {"field": "y", "type": "quantitative", "scale": {"domain": [-0.05, 1.05], "nice": false}, "axis": {"values": [0, 0.2, 0.4, 0.6, 0.8, 1], "format": ".1f", "title": "True Positive Rate"}},
         "color": {"field": "s", "type": "nominal", "scale": {"domain": ["6 m", "12 m", "18 m", "24 m", "30 m"], "range": ["#2f3546", "#e3a443", "#4c9bbd", "#b1483a", "#a9a9a9"]}, "legend": {"title": null, "orient": "top-left"}}}},
       {"data": {"name": "diag"}, "mark": {"type": "line", "color": "#1a1a1a", "strokeDash": [4, 3], "strokeWidth": 1.1},
        "encoding": {"x": {"field": "x", "type": "quantitative", "axis": {"orient": "top", "labels": false, "ticks": false, "title": null}}, "y": {"field": "y", "type": "quantitative", "axis": {"orient": "right", "labels": false, "ticks": false, "title": null}}}}
      ]},
     {"width": 96, "height": 154,
      "resolve": {"axis": {"x": "independent", "y": "independent"}},
      "layer": [
       {"data": {"name": "pr"}, "transform": [{"filter": "datum.p === 'b'"}],
        "mark": {"type": "line", "strokeWidth": 1.2},
        "encoding": {
         "x": {"field": "x", "type": "quantitative", "scale": {"domain": [-0.07, 1.07], "nice": false}, "axis": {"values": [0, 0.2, 0.4, 0.6, 0.8, 1], "format": ".1f", "title": "Recall"}},
         "y": {"field": "y", "type": "quantitative", "scale": {"domain": [-0.04, 1.05], "nice": false}, "axis": {"values": [0, 0.2, 0.4, 0.6, 0.8, 1], "format": ".1f", "title": "Precision"}},
         "color": {"field": "s", "type": "nominal", "scale": {"domain": ["6 m", "12 m", "18 m", "24 m", "30 m"], "range": ["#2f3546", "#e3a443", "#4c9bbd", "#b1483a", "#a9a9a9"]}, "legend": {"title": null, "orient": "top-right"}}}},
       {"data": {"name": "diag"}, "mark": {"type": "line", "opacity": 0},
        "encoding": {"x": {"field": "x", "type": "quantitative", "axis": {"orient": "top", "labels": false, "ticks": false, "title": null}}, "y": {"field": "y", "type": "quantitative", "axis": {"orient": "right", "labels": false, "ticks": false, "title": null}}}}
      ]}
    ]},
   {"title": {"text": "simple-mamba", "fontSize": 14, "anchor": "middle", "offset": -18},
    "spacing": 5,
    "resolve": {"scale": {"color": "independent", "x": "independent", "y": "independent"}, "legend": {"color": "independent"}},
    "hconcat": [
     {"title": {"text": "c)", "font": "Liberation Serif", "fontSize": 20, "anchor": "start", "offset": -2, "dx": 4},
      "width": 92, "height": 154,
      "resolve": {"axis": {"x": "independent", "y": "independent"}},
      "layer": [
       {"data": {"name": "roc"}, "transform": [{"filter": "datum.p === 'c'"}],
        "mark": {"type": "line", "strokeWidth": 1.2, "interpolate": "monotone"},
        "encoding": {
         "x": {"field": "x", "type": "quantitative", "scale": {"domain": [-0.05, 1.05], "nice": false}, "axis": {"values": [0, 0.2, 0.4, 0.6, 0.8, 1], "format": ".1f", "title": "False Positive Rate"}},
         "y": {"field": "y", "type": "quantitative", "scale": {"domain": [-0.05, 1.05], "nice": false}, "axis": {"values": [0, 0.2, 0.4, 0.6, 0.8, 1], "format": ".1f", "title": "True Positive Rate"}},
         "color": {"field": "s", "type": "nominal", "scale": {"domain": ["6 m", "12 m", "18 m", "24 m", "30 m"], "range": ["#2f3546", "#e3a443", "#4c9bbd", "#b1483a", "#a9a9a9"]}, "legend": {"title": null, "orient": "bottom-right"}}}},
       {"data": {"name": "diag"}, "mark": {"type": "line", "color": "#1a1a1a", "strokeDash": [4, 3], "strokeWidth": 1.1},
        "encoding": {"x": {"field": "x", "type": "quantitative", "axis": {"orient": "top", "labels": false, "ticks": false, "title": null}}, "y": {"field": "y", "type": "quantitative", "axis": {"orient": "right", "labels": false, "ticks": false, "title": null}}}}
      ]},
     {"width": 96, "height": 154,
      "resolve": {"axis": {"x": "independent", "y": "independent"}},
      "layer": [
       {"data": {"name": "pr"}, "transform": [{"filter": "datum.p === 'c'"}],
        "mark": {"type": "line", "strokeWidth": 1.2},
        "encoding": {
         "x": {"field": "x", "type": "quantitative", "scale": {"domain": [-0.07, 1.07], "nice": false}, "axis": {"values": [0, 0.2, 0.4, 0.6, 0.8, 1], "format": ".1f", "title": "Recall"}},
         "y": {"field": "y", "type": "quantitative", "scale": {"domain": [-0.04, 1.05], "nice": false}, "axis": {"values": [0, 0.2, 0.4, 0.6, 0.8, 1], "format": ".1f", "title": "Precision"}},
         "color": {"field": "s", "type": "nominal", "scale": {"domain": ["6 m", "12 m", "18 m", "24 m", "30 m"], "range": ["#2f3546", "#e3a443", "#4c9bbd", "#b1483a", "#a9a9a9"]}, "legend": {"title": null, "orient": "top-right"}}}},
       {"data": {"name": "diag"}, "mark": {"type": "line", "opacity": 0},
        "encoding": {"x": {"field": "x", "type": "quantitative", "axis": {"orient": "top", "labels": false, "ticks": false, "title": null}}, "y": {"field": "y", "type": "quantitative", "axis": {"orient": "right", "labels": false, "ticks": false, "title": null}}}}
      ]}
    ]}
  ]},
 {"spacing": 10,
  "resolve": {"scale": {"color": "independent", "x": "independent", "y": "independent", "strokeDash": "independent"}, "legend": {"color": "independent", "strokeDash": "independent"}},
  "hconcat": [
   {"title": {"text": "simple-ff", "fontSize": 14, "anchor": "middle", "offset": -18},
    "spacing": 5,
    "resolve": {"scale": {"color": "independent", "x": "independent", "y": "independent"}, "legend": {"color": "independent"}},
    "hconcat": [
     {"title": {"text": "d)", "font": "Liberation Serif", "fontSize": 20, "anchor": "start", "offset": -2, "dx": 4},
      "width": 92, "height": 154,
      "resolve": {"axis": {"x": "independent", "y": "independent"}},
      "layer": [
       {"data": {"name": "roc"}, "transform": [{"filter": "datum.p === 'd'"}],
        "mark": {"type": "line", "strokeWidth": 1.2, "interpolate": "monotone"},
        "encoding": {
         "x": {"field": "x", "type": "quantitative", "scale": {"domain": [-0.05, 1.05], "nice": false}, "axis": {"values": [0, 0.2, 0.4, 0.6, 0.8, 1], "format": ".1f", "title": "False Positive Rate"}},
         "y": {"field": "y", "type": "quantitative", "scale": {"domain": [-0.05, 1.05], "nice": false}, "axis": {"values": [0, 0.2, 0.4, 0.6, 0.8, 1], "format": ".1f", "title": "True Positive Rate"}},
         "color": {"field": "s", "type": "nominal", "scale": {"domain": ["6 m", "12 m", "18 m", "24 m", "30 m"], "range": ["#2f3546", "#e3a443", "#4c9bbd", "#b1483a", "#a9a9a9"]}, "legend": {"title": null, "orient": "bottom-right"}}}},
       {"data": {"name": "diag"}, "mark": {"type": "line", "color": "#1a1a1a", "strokeDash": [4, 3], "strokeWidth": 1.1},
        "encoding": {"x": {"field": "x", "type": "quantitative", "axis": {"orient": "top", "labels": false, "ticks": false, "title": null}}, "y": {"field": "y", "type": "quantitative", "axis": {"orient": "right", "labels": false, "ticks": false, "title": null}}}}
      ]},
     {"width": 96, "height": 154,
      "resolve": {"axis": {"x": "independent", "y": "independent"}},
      "layer": [
       {"data": {"name": "pr"}, "transform": [{"filter": "datum.p === 'd'"}],
        "mark": {"type": "line", "strokeWidth": 1.2},
        "encoding": {
         "x": {"field": "x", "type": "quantitative", "scale": {"domain": [-0.07, 1.07], "nice": false}, "axis": {"values": [0, 0.2, 0.4, 0.6, 0.8, 1], "format": ".1f", "title": "Recall"}},
         "y": {"field": "y", "type": "quantitative", "scale": {"domain": [-0.04, 1.05], "nice": false}, "axis": {"values": [0, 0.2, 0.4, 0.6, 0.8, 1], "format": ".1f", "title": "Precision"}},
         "color": {"field": "s", "type": "nominal", "scale": {"domain": ["6 m", "12 m", "18 m", "24 m", "30 m"], "range": ["#2f3546", "#e3a443", "#4c9bbd", "#b1483a", "#a9a9a9"]}, "legend": {"title": null, "orient": "top-right"}}}},
       {"data": {"name": "diag"}, "mark": {"type": "line", "opacity": 0},
        "encoding": {"x": {"field": "x", "type": "quantitative", "axis": {"orient": "top", "labels": false, "ticks": false, "title": null}}, "y": {"field": "y", "type": "quantitative", "axis": {"orient": "right", "labels": false, "ticks": false, "title": null}}}}
      ]}
    ]},
   {"title": {"text": "simple-ff-count-only", "fontSize": 14, "anchor": "middle", "offset": -18},
    "spacing": 5,
    "resolve": {"scale": {"color": "independent", "x": "independent", "y": "independent"}, "legend": {"color": "independent"}},
    "hconcat": [
     {"title": {"text": "e)", "font": "Liberation Serif", "fontSize": 20, "anchor": "start", "offset": -2, "dx": 4},
      "width": 92, "height": 154,
      "resolve": {"axis": {"x": "independent", "y": "independent"}},
      "layer": [
       {"data": {"name": "roc"}, "transform": [{"filter": "datum.p === 'e'"}],
        "mark": {"type": "line", "strokeWidth": 1.2, "interpolate": "monotone"},
        "encoding": {
         "x": {"field": "x", "type": "quantitative", "scale": {"domain": [-0.05, 1.05], "nice": false}, "axis": {"values": [0, 0.2, 0.4, 0.6, 0.8, 1], "format": ".1f", "title": "False Positive Rate"}},
         "y": {"field": "y", "type": "quantitative", "scale": {"domain": [-0.05, 1.05], "nice": false}, "axis": {"values": [0, 0.2, 0.4, 0.6, 0.8, 1], "format": ".1f", "title": "True Positive Rate"}},
         "color": {"field": "s", "type": "nominal", "scale": {"domain": ["6 m", "12 m", "18 m", "24 m", "30 m"], "range": ["#2f3546", "#e3a443", "#4c9bbd", "#b1483a", "#a9a9a9"]}, "legend": {"title": null, "orient": "top-left"}}}},
       {"data": {"name": "diag"}, "mark": {"type": "line", "color": "#1a1a1a", "strokeDash": [4, 3], "strokeWidth": 1.1},
        "encoding": {"x": {"field": "x", "type": "quantitative", "axis": {"orient": "top", "labels": false, "ticks": false, "title": null}}, "y": {"field": "y", "type": "quantitative", "axis": {"orient": "right", "labels": false, "ticks": false, "title": null}}}}
      ]},
     {"width": 96, "height": 154,
      "resolve": {"axis": {"x": "independent", "y": "independent"}},
      "layer": [
       {"data": {"name": "pr"}, "transform": [{"filter": "datum.p === 'e'"}],
        "mark": {"type": "line", "strokeWidth": 1.2},
        "encoding": {
         "x": {"field": "x", "type": "quantitative", "scale": {"domain": [-0.07, 1.07], "nice": false}, "axis": {"values": [0, 0.2, 0.4, 0.6, 0.8, 1], "format": ".1f", "title": "Recall"}},
         "y": {"field": "y", "type": "quantitative", "scale": {"domain": [-0.04, 1.05], "nice": false}, "axis": {"values": [0, 0.2, 0.4, 0.6, 0.8, 1], "format": ".1f", "title": "Precision"}},
         "color": {"field": "s", "type": "nominal", "scale": {"domain": ["6 m", "12 m", "18 m", "24 m", "30 m"], "range": ["#2f3546", "#e3a443", "#4c9bbd", "#b1483a", "#a9a9a9"]}, "legend": {"title": null, "orient": "top-right"}}}},
       {"data": {"name": "diag"}, "mark": {"type": "line", "opacity": 0},
        "encoding": {"x": {"field": "x", "type": "quantitative", "axis": {"orient": "top", "labels": false, "ticks": false, "title": null}}, "y": {"field": "y", "type": "quantitative", "axis": {"orient": "right", "labels": false, "ticks": false, "title": null}}}}
      ]}
    ]},
   {"title": {"text": "f)", "font": "Liberation Serif", "fontSize": 20, "anchor": "start", "offset": -2, "dx": 2},
    "width": 232, "height": 156,
    "resolve": {"axis": {"x": "independent", "y": "independent"}},
    "layer": [
     {"data": {"name": "auc"},
      "mark": {"type": "line", "strokeWidth": 1.2, "point": {"shape": "M-1,0L1,0M0,-1L0,1", "filled": false, "size": 25, "strokeWidth": 1}},
      "encoding": {
       "x": {"field": "h", "type": "quantitative", "scale": {"domain": [4.9, 30.7], "nice": false, "zero": false}, "axis": {"values": [6, 12, 18, 24, 30], "title": "Prediction Horizon (months)", "titleFontSize": 14}},
       "y": {"field": "v", "type": "quantitative", "scale": {"domain": [0.52, 7.16], "nice": false, "zero": false}, "axis": {"values": [1, 2, 3, 4, 5, 6, 7], "title": "AUC / Prevalence Ratio", "titleFontSize": 13}},
       "color": {"field": "s", "type": "nominal",
         "scale": {"domain": ["Random Classifier", "corebehrt", "cehrbert", "simple-ff", "clmbr-t-5k-csm", "simple-ff-count-only", "clmbr-t-base", "simple-mamba"],
                   "range": ["#b5523b", "#8fc1b5", "#e8a838", "#5b6b8c", "#6cb4d4", "#8a8a8a", "#a3483a", "#2b2f3a"]},
         "legend": {"title": null, "orient": "top-right", "columns": 2, "columnPadding": 5, "labelFontSize": 5, "symbolSize": 70}},
       "strokeDash": {"field": "s", "type": "nominal",
         "scale": {"domain": ["Random Classifier", "corebehrt", "cehrbert", "simple-ff", "clmbr-t-5k-csm", "simple-ff-count-only", "clmbr-t-base", "simple-mamba"],
                   "range": [[4, 2], [1, 0], [1, 0], [1, 0], [1, 0], [1, 0], [1, 0], [1, 0]]},
         "legend": {"title": null, "orient": "top-right", "columns": 2, "columnPadding": 5, "labelFontSize": 5, "symbolSize": 70}}
      }},
     {"data": {"name": "auc"}, "mark": {"type": "line", "opacity": 0},
      "encoding": {"x": {"field": "h", "type": "quantitative", "axis": {"orient": "top", "labels": false, "ticks": false, "title": null}}, "y": {"field": "v", "type": "quantitative", "axis": {"orient": "right", "labels": false, "ticks": false, "title": null}}, "detail": {"field": "s"}}}
    ]}
  ]}
]
}
